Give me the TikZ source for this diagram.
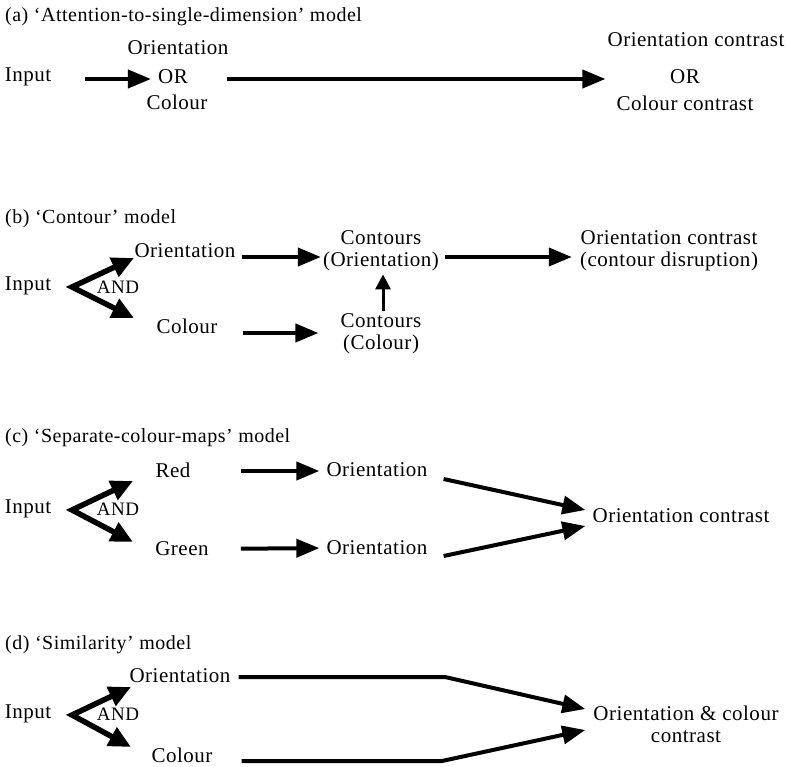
\documentclass[tikz,border=0pt]{standalone}
\usepackage{fontspec}
\setmainfont{Liberation Serif}[LetterSpace=2.5]
\usetikzlibrary{arrows.meta}
\tikzset{
  txt/.style={inner sep=0pt, font=\fontsize{21}{22}\selectfont, align=center},
  hdr/.style={inner sep=0pt, anchor=west, font=\fontsize{20}{22}\selectfont},
  andtxt/.style={inner sep=0pt, font=\fontsize{19}{22}\selectfont},
  flow/.style={line width=4pt, -{Triangle[length=23pt,width=18pt]}},
  fork/.style={line width=5.5pt, line join=miter,
    {Triangle[length=22pt,width=20pt]}-{Triangle[length=22pt,width=20pt]}},
  upflow/.style={line width=3pt, -{Triangle[length=15pt,width=15pt]}}
}
\begin{document}
\begin{tikzpicture}[x=1pt,y=-1pt]
    \useasboundingbox (0,0) rectangle (787,767);

    % (a)
    \node[hdr] (ttlA) at (5,17) {(a) ‘Attention-to-single-dimension’ model};
    \node[txt] (inA) at (28,77) {Input};
    \node[txt] (oriA) at (178,48) {Orientation};
    \node[txt] (orA) at (173,77) {OR};
    \node[txt] (colA) at (177,102) {Colour};
    \node[txt] (oriCA) at (696,40) {Orientation contrast};
    \node[txt] (orCA) at (685,77) {OR};
    \node[txt] (colCA) at (685,103) {Colour contrast};
    \draw[flow, shorten <=34pt, shorten >=7pt] ([yshift=-2pt]inA.east) -- ([yshift=-2pt]orA.west);
    \draw[flow, shorten <=39pt, shorten >=2pt] ([yshift=-2pt]orA.east) -- ([yshift=-2pt]orA.east -| oriCA.west);

    % (b)
    \node[hdr] (ttlB) at (5,219) {(b) ‘Contour’ model};
    \node[txt] (inB) at (28,286) {Input};
    \coordinate (vB) at (72,287);
    \coordinate (upB) at (134,258);
    \coordinate (loB) at (134,318);
    \node[andtxt] (andB) at (118,287) {AND};
    \node[txt] (oriB) at (185,251) {Orientation};
    \node[txt] (colB) at (187,326) {Colour};
    \node[txt] (ctoB) at (381,251) {Contours\\(Orientation)};
    \node[txt] (ctcB) at (381,334) {Contours\\(Colour)};
    \node[txt] (conB) at (669,251) {Orientation contrast\\(contour disruption)};
    \draw[fork] (upB) -- (vB) -- (loB);
    \draw[flow, shorten <=6pt, shorten >=2pt] ([yshift=-6pt]oriB.east) -- ([yshift=-6pt]ctoB.west);
    \draw[flow, shorten <=25pt, shorten >=22pt] ([yshift=-7pt]colB.east) -- ([yshift=1pt]ctcB.west);
    \draw[upflow, shorten <=3pt, shorten >=3pt] ([xshift=2pt]ctcB.north) -- ([xshift=2pt]ctoB.south);
    \draw[flow, shorten <=6pt, shorten >=8pt] ([yshift=-6pt]ctoB.east) -- ([yshift=-6pt]conB.west);

    % (c)
    \node[hdr] (ttlC) at (5,438) {(c) ‘Separate-colour-maps’ model};
    \node[txt] (inC) at (28,509) {Input};
    \coordinate (vC) at (72,510);
    \coordinate (upC) at (133,481);
    \coordinate (loC) at (133,542);
    \node[andtxt] (andC) at (118,509) {AND};
    \node[txt] (redC) at (173,470) {Red};
    \node[txt] (grnC) at (182,549) {Green};
    \node[txt] (or1C) at (377,470) {Orientation};
    \node[txt] (or2C) at (377,548) {Orientation};
    \node[txt] (conC) at (681,516) {Orientation contrast};
    \draw[fork] (upC) -- (vC) -- (loC);
    \draw[flow, shorten <=50pt, shorten >=7pt] ([yshift=-1pt]redC.east) -- ([yshift=-1pt]or1C.west);
    \draw[flow, shorten <=32pt, shorten >=7pt] (grnC.east) -- (or2C.west);
    \draw[flow] ([xshift=16pt,yshift=-9pt]or1C.east) -- ([xshift=-7pt,yshift=6pt]conC.west);
    \draw[flow] ([xshift=16pt,yshift=-8pt]or2C.east) -- ([xshift=-7pt,yshift=-10pt]conC.west);

    % (d)
    \node[hdr] (ttlD) at (5,645) {(d) ‘Similarity’ model};
    \node[txt] (inD) at (28,714) {Input};
    \coordinate (vD) at (72,715);
    \coordinate (upD) at (131,687);
    \coordinate (loD) at (131,747);
    \node[andtxt] (andD) at (118,714) {AND};
    \node[txt] (oriD) at (180,676) {Orientation};
    \node[txt] (colD) at (182,755) {Colour};
    \node[txt] (conD) at (686,724) {Orientation \& colour\\contrast};
    \coordinate (bdD1) at (445,677);
    \coordinate (bdD2) at (442,761);
    \draw[fork] (upD) -- (vD) -- (loD);
    \draw[flow, shorten <=8pt] ([yshift=-1pt]oriD.east) -- (bdD1) -- ([xshift=-8pt,yshift=15pt]conD.west);
    \draw[flow, shorten <=29pt] ([yshift=-6pt]colD.east) -- (bdD2) -- ([xshift=-8pt,yshift=-6pt]conD.west);
\end{tikzpicture}
\end{document}
